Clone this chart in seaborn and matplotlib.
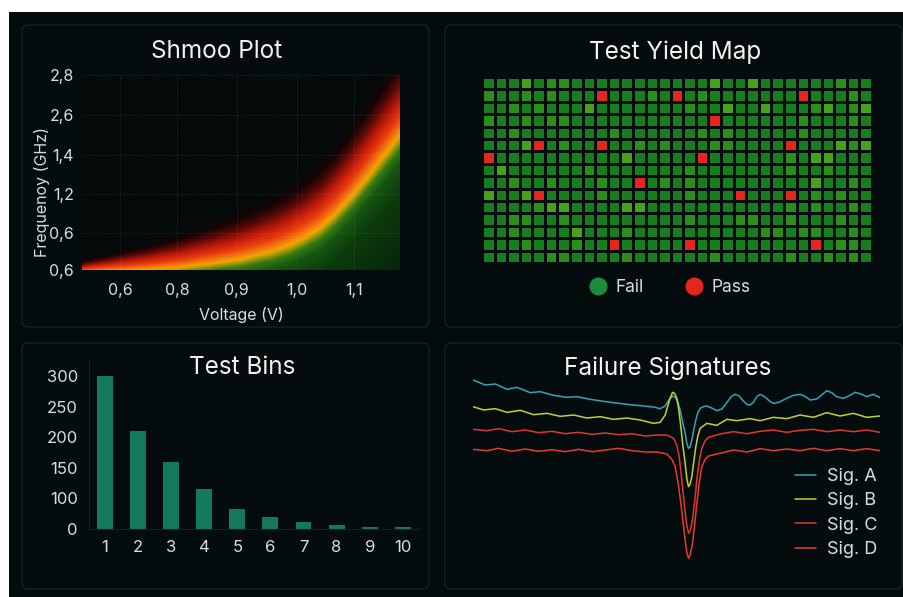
import numpy as np
import pandas as pd
import matplotlib
matplotlib.use("Agg")
import matplotlib.pyplot as plt
import seaborn as sns
from matplotlib.colors import LinearSegmentedColormap, ListedColormap
from matplotlib.patches import FancyBboxPatch, Rectangle
from matplotlib.lines import Line2D
from matplotlib.transforms import IdentityTransform

# ---- data ----
# shmoo pass/fail boundary (normalised voltage -> normalised frequency)
shmoo_x = [0.0, 0.1, 0.2, 0.3, 0.4, 0.5, 0.6, 0.65, 0.7, 0.75, 0.8, 0.85, 0.9, 0.95, 1.0]
shmoo_y = [-0.01, -0.005, 0.0, 0.01, 0.03, 0.055, 0.095, 0.125, 0.165, 0.215, 0.29, 0.38,
           0.48, 0.585, 0.69]
volt_labels = ["0,6", "0,8", "0,9", "1,0", "1,1"]
freq_labels = ["0,6", "0,6", "1,2", "1,4", "2,6", "2,8"]

# yield map: '.' dark, 'm' mid, 'l' light green, 'R' red
yield_rows = [
    "...l.mm..." + "........l." + ".l......m..",
    "m..m.m...R" + "...m.R.m.." + ".....R...m.",
    "..m.m...l." + "......m..l" + "..l...ml.ml",
    "m..m.mm..." + "........R." + ".....m...m.",
    "..m......." + "m......m.m" + ".....m.....",
    "...lR.m..R" + "..m.m...mm" + "....R...lml",
    "R........." + ".l.....R.." + "....m.ll...",
    ".l......m." + "......m..." + "....m..m...",
    "..m..m...m" + "..R.m.m..." + "......l..m.",
    "l..lR....m" + "......m..." + "R...R.m.m..",
    "....mll..." + ".ll......." + "....m.m..m.",
    "..mm..m..." + "......m..." + "mm..m...m..",
    "..m....l.." + ".m........" + "..mm.mm..m.",
    "...m...m.." + "R.....R..." + "......R.mm.",
    ".....mm..." + ".m......m." + "....m..m.m.",
]
yield_legend = ["Fail", "Pass"]

bins = [1, 2, 3, 4, 5, 6, 7, 8, 9, 10]
bin_counts = [300, 210, 160, 115, 82, 69, 61, 57, 54, 54]
bin_tick_labels = ["0", "100", "150", "200", "250", "300"]

sig_a_t = [9.8, 13.5, 16.5, 20, 23, 27, 30, 34, 38, 41, 45, 49, 52, 56, 60, 64, 66, 67.5, 68.8,
           69.8, 70.6, 71.3, 72, 72.7, 73.5, 74, 74.5, 75, 75.5, 76.1, 76.7, 77.3, 78, 79, 80,
           81.5, 83, 84.5, 86, 87.3, 88.5, 89.7, 91, 92, 93, 94, 95, 96, 97.2, 98.5, 99.5,
           100.5, 102, 104, 106, 108, 109.5, 111, 113, 114.5, 116, 117.5, 119, 121, 122.8,
           124.5, 126.3, 128, 130, 132]
sig_a_v = [15.0, 13.5, 13.8, 12.2, 12.8, 11.2, 11.5, 10.4, 9.8, 10.0, 9.2, 8.6, 8.2, 7.7, 7.3,
           6.9, 6.4, 7.2, 9.3, 10.2, 9.8, 8.4, 6.0, 2.6, -1.0, -4.0, -5.5, -5.0, -3.0, 0.2, 3.0,
           5.2, 6.5, 7.0, 7.2, 6.6, 5.8, 6.3, 8.2, 10.0, 10.7, 10.2, 8.7, 7.7, 7.5, 8.3, 10.0,
           10.7, 10.1, 9.0, 8.2, 8.0, 8.5, 9.5, 10.4, 10.7, 10.1, 9.0, 9.3, 10.5, 11.8, 11.2,
           10.0, 9.5, 10.3, 11.3, 10.8, 10.0, 10.7, 9.7]
sig_b_t = [9.8, 13, 16.5, 20, 24, 28, 32, 36, 40, 44, 48, 52, 56, 60, 64, 66, 67.5, 68.8, 69.7,
           70.3, 71, 71.6, 72.2, 72.8, 73.5, 74, 74.5, 75, 75.5, 76.1, 76.7, 77.3, 78, 80, 83,
           86, 89, 93, 96, 100, 104, 108, 112, 116, 120, 124, 128, 132]
sig_b_v = [7.0, 6.0, 6.4, 5.3, 5.9, 4.6, 5.0, 4.1, 4.5, 3.6, 4.0, 3.2, 3.6, 3.0, 2.0, 2.3, 4.5,
           9.0, 11.3, 11.0, 9.5, 6.0, 1.0, -4.5, -10.0, -14.5, -17.0, -16.2, -14.0, -9.5, -5.0,
           -1.8, 0.5, 2.0, 1.4, 3.2, 2.8, 3.4, 2.8, 3.8, 3.4, 4.5, 3.8, 5.2, 4.2, 5.0, 3.8, 4.2]
sig_c_t = [9.8, 14, 17.5, 21.5, 25.5, 29.5, 33.5, 37.5, 41.5, 45.5, 49.5, 53.5, 57.5, 61.5, 65,
           68, 70, 71, 71.7, 72.5, 73.2, 73.9, 74.5, 75.1, 75.7, 76.4, 77, 77.7, 78.5, 79.5,
           80.5, 84, 88, 92, 96, 100, 104, 108, 112, 116, 120, 124, 128, 132]
sig_c_v = [0.2, -0.2, 0.4, -0.5, 0.0, -0.8, -0.4, -1.1, -0.7, -1.3, -0.9, -1.4, -1.1, -1.8,
           -1.5, -1.5, -2.5, -4.5, -8.0, -15.0, -22.0, -28.0, -31.0, -30.0, -27.0, -21.0, -15.0,
           -9.5, -5.5, -3.2, -2.2, -1.2, -0.5, -1.1, -0.4, 0.0, -0.7, -0.1, 0.2, -0.5, 0.0,
           -0.5, 0.0, -0.7]
sig_d_t = [9.8, 14, 17.5, 21.5, 25.5, 29.5, 33.5, 37.5, 41.5, 45.5, 49.5, 53.5, 57.5, 61.5, 65,
           68, 69.5, 70.5, 71.4, 72.2, 72.9, 73.5, 74, 74.5, 75, 75.7, 76.4, 77, 77.7, 78.5,
           79.5, 80.5, 84, 88, 92, 96, 100, 104, 108, 112, 116, 120, 124, 128, 132]
sig_d_v = [-5.8, -6.2, -5.5, -6.4, -5.7, -6.4, -5.9, -6.5, -5.8, -6.5, -6.0, -5.5, -6.2, -6.6,
           -6.6, -7.2, -8.8, -11.0, -16.0, -22.0, -28.0, -33.0, -36.8, -38.5, -37.5, -34.0,
           -28.0, -22.0, -16.0, -11.0, -8.8, -7.8, -7.0, -6.0, -6.6, -5.6, -6.2, -5.7, -6.2,
           -5.5, -6.2, -5.6, -6.2, -5.6, -6.2]
sig_names = ["Sig. A", "Sig. B", "Sig. C", "Sig. D"]

# ---- style ----
BG = "#030b0d"
PANEL = "#040c0e"
EDGE = "#142220"
TXT = "#d9dddd"
sns.set_theme(style="dark")
plt.rcParams["font.family"] = ["Inter", "DejaVu Sans"]

W, H = 904, 597
fig = plt.figure(figsize=(W / 100, H / 100), dpi=100, facecolor="white")
fig.add_artist(Rectangle((9 / W, 0), 1 - 9 / W, 1 - 12 / H, transform=fig.transFigure,
                         facecolor=BG, edgecolor="none", zorder=-10))


def panel(x0, y0, x1, y1):
    p = FancyBboxPatch((x0, H - y1), x1 - x0, y1 - y0, boxstyle="round,pad=0,rounding_size=6",
                       transform=IdentityTransform(), facecolor=PANEL, edgecolor=EDGE, lw=1, zorder=-5)
    fig.add_artist(p)


def add_ax(x0, y0, x1, y1):
    ax = fig.add_axes([x0 / W, 1 - y1 / H, (x1 - x0) / W, (y1 - y0) / H])
    ax.set_facecolor("none")
    return ax


for box in [(22, 25, 429, 327), (445, 25, 902, 327), (22, 343, 429, 589), (445, 343, 902, 589)]:
    panel(*box)

title_kw = dict(color="#f2f2f2", fontsize=17.5, ha="center", va="center")
fig.text(217 / W, 1 - 52 / H, "Shmoo Plot", **title_kw)
fig.text(675 / W, 1 - 52 / H, "Test Yield Map", **title_kw)
fig.text(242 / W, 1 - 368 / H, "Test Bins", **title_kw)
fig.text(668 / W, 1 - 368 / H, "Failure Signatures", **title_kw)

# ---- shmoo plot ----
ax1 = add_ax(82, 75, 400, 270)
gx = np.linspace(0, 1, 500)
gy = np.linspace(0, 1, 300)
yb = np.interp(gx, shmoo_x, shmoo_y)
width = 0.04 + 0.25 * gx
field = (yb[None, :] - gy[:, None]) / width[None, :]
shmoo_cmap = LinearSegmentedColormap.from_list("shmoo", [
    (0.0, "#050a0b"), (0.083, "#160504"), (0.155, "#5a0a06"), (0.226, "#b8180a"),
    (0.298, "#e83a0e"), (0.345, "#f27410"), (0.381, "#f5a400"), (0.405, "#a39a0c"),
    (0.440, "#357a12"), (0.5, "#165510"), (0.619, "#0c3c0c"), (1.0, "#06220a")])
ax1.imshow(field, origin="lower", extent=[0, 1, 0, 1], cmap=shmoo_cmap, vmin=-1.6, vmax=2.6,
           aspect="auto", interpolation="bilinear")
ax1.set_xlim(0, 1)
ax1.set_ylim(0, 1)
ax1.set_xticks([0.12, 0.30, 0.486, 0.676, 0.855], volt_labels)
ax1.set_yticks([0, 0.19, 0.39, 0.59, 0.795, 1.0], freq_labels)
ax1.tick_params(colors=TXT, labelsize=11.5, length=0)
ax1.tick_params(axis="x", pad=9)
ax1.tick_params(axis="y", pad=6)
ax1.grid(True, color="white", alpha=0.05, lw=0.8)
ax1.set_axisbelow(False)
for s in ax1.spines.values():
    s.set_visible(False)
ax1.set_xlabel("Voltage (V)", color=TXT, fontsize=11.5, labelpad=7)
ax1.set_ylabel("Frequenoy (GHz)", color=TXT, fontsize=11.5)
ax1.yaxis.set_label_coords(-0.10, 0.40)

# ---- yield map ----
ax2 = add_ax(482, 77, 872, 263)
code = {".": 0, "m": 1, "l": 2, "R": 3}
yield_mat = np.array([[code[c] for c in row] for row in yield_rows])
cell_cmap = ListedColormap(["#187d1e", "#2b8e1b", "#48a11a", "#e5261d"])
sns.heatmap(yield_mat, cmap=cell_cmap, vmin=-0.5, vmax=3.5, cbar=False, linewidths=1.8,
            linecolor=BG, xticklabels=False, yticklabels=False, ax=ax2)
handles = [Line2D([], [], marker="o", ls="none", ms=12, color=c) for c in ["#1d8a3c", "#e5261d"]]
fig.legend(handles, yield_legend, loc="center", bbox_to_anchor=(670 / W, 1 - 288 / H),
           ncol=2, frameon=False, fontsize=12.5, labelcolor=TXT, columnspacing=2.4,
           handletextpad=0.5, handlelength=1.0)

# ---- test bins ----
ax3 = add_ax(89, 360, 420, 529)
sns.barplot(x=bins, y=bin_counts, color="#14795b", saturation=1, width=0.48,
            edgecolor="none", linewidth=0, ax=ax3)
ax3.set_ylim(50, 326)
ax3.set_xlim(-0.48, 9.52)
ax3.set_yticks([50, 100, 150, 200, 250, 300], bin_tick_labels)
ax3.tick_params(colors=TXT, labelsize=12, length=0, pad=8)
for name, s in ax3.spines.items():
    s.set_visible(name in ("left", "bottom"))
    s.set_color("#13201f")
    s.set_linewidth(0.8)

# ---- failure signatures ----
ax4 = add_ax(473, 370, 880, 570)
sig_df = pd.concat([
    pd.DataFrame({"t": t, "v": v, "signal": n})
    for t, v, n in zip([sig_a_t, sig_b_t, sig_c_t, sig_d_t],
                       [sig_a_v, sig_b_v, sig_c_v, sig_d_v], sig_names)])
palette = dict(zip(sig_names, ["#34a3b8", "#c4d12c", "#e0362c", "#e8392e"]))
sns.lineplot(data=sig_df, x="t", y="v", hue="signal", palette=palette, lw=1.1,
             estimator=None, sort=False, solid_joinstyle="round", ax=ax4)
ax4.set_xlim(9.8, 132)
ax4.set_ylim(-42, 18)
ax4.axis("off")
h, l = ax4.get_legend_handles_labels()
ax4.legend(h, l, loc="center right", bbox_to_anchor=(894 / W, 1 - 513 / H),
           bbox_transform=fig.transFigure, frameon=False, fontsize=13, labelcolor=TXT,
           handlelength=1.2, handletextpad=0.6, labelspacing=0.4)

fig.savefig("out.png", dpi=100, facecolor=fig.get_facecolor())
